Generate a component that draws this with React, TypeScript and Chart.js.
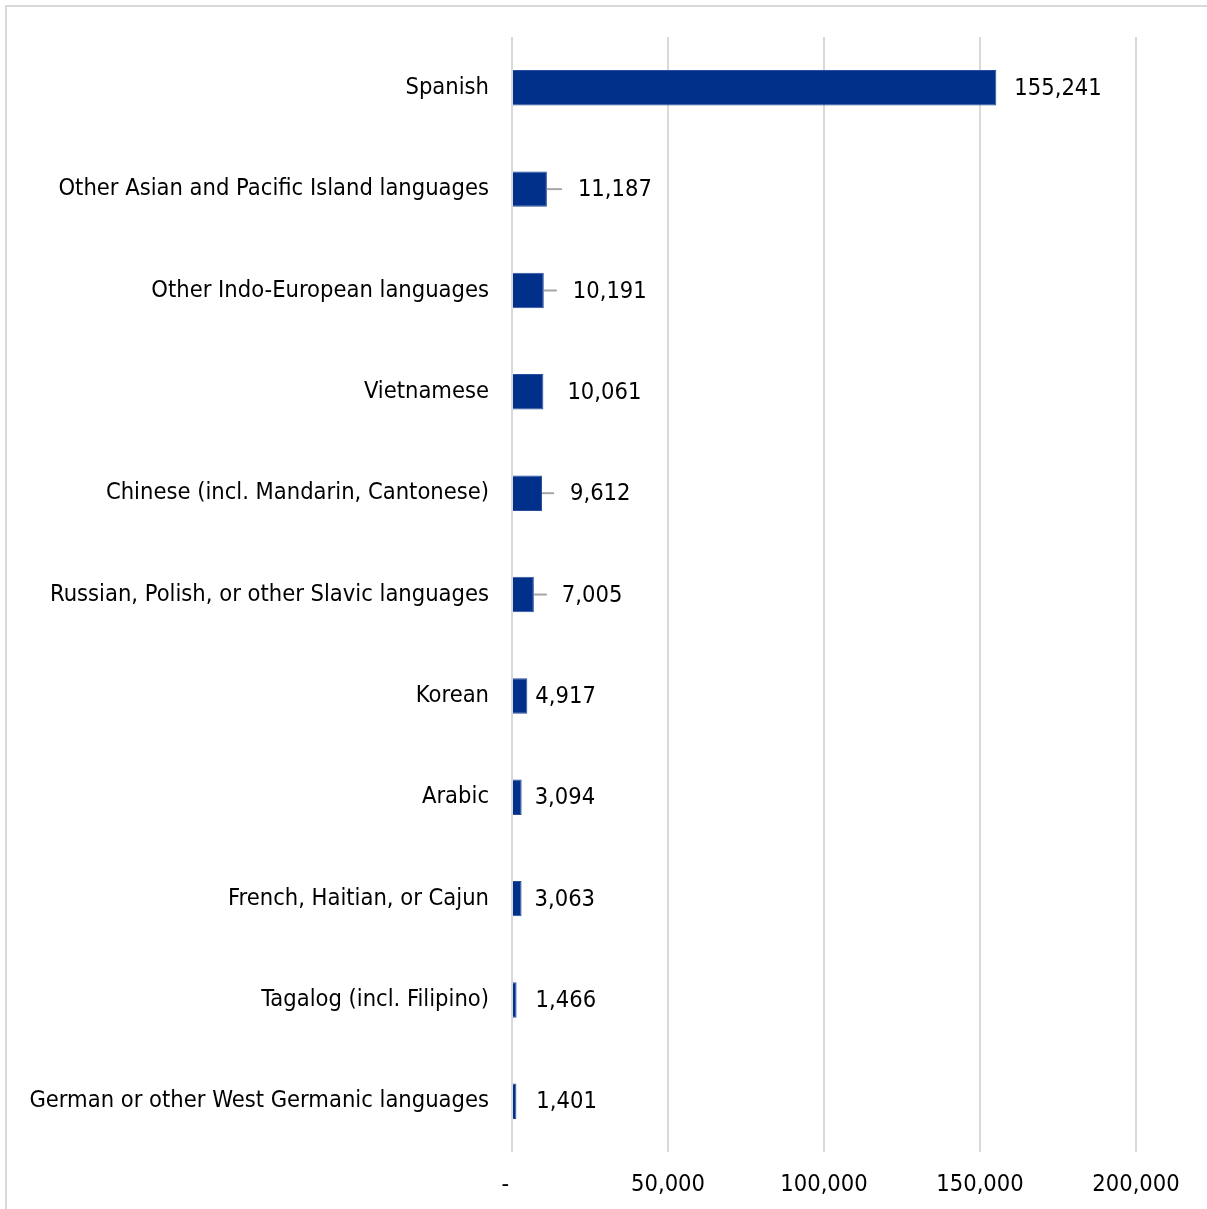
import React, { useEffect, useRef } from "react";
import { Chart, registerables } from "chart.js";

Chart.register(...registerables);

const categories = [
  "Spanish",
  "Other Asian and Pacific Island languages",
  "Other Indo-European languages",
  "Vietnamese",
  "Chinese (incl. Mandarin, Cantonese)",
  "Russian, Polish, or other Slavic languages",
  "Korean",
  "Arabic",
  "French, Haitian, or Cajun",
  "Tagalog (incl. Filipino)",
  "German or other West Germanic languages",
];

const speakers = [155241, 11187, 10191, 10061, 9612, 7005, 4917, 3094, 3063, 1466, 1401];

const xTickValues = [0, 50000, 100000, 150000, 200000];

// label layout (pixels from bar end) and leader line lengths
const labelGap = [18, 31, 29, 24, 28, 28, 8, 13, 13, 19, 20];
const leaderLen = [0, 15, 13, 0, 12, 13, 0, 0, 0, 0, 0];

const FONT = "'DejaVu Sans Condensed', 'DejaVu Sans', sans-serif";
const FSIZE = 23.5;

const labelPlugin = {
  id: "barLabels",
  afterDatasetsDraw(chart: any) {
    const ctx = chart.ctx;
    const meta = chart.getDatasetMeta(0);
    ctx.save();
    ctx.font = `${FSIZE}px ${FONT}`;
    ctx.textBaseline = "middle";
    ctx.textAlign = "left";
    meta.data.forEach((bar: any, i: number) => {
      const x = bar.x;
      const y = bar.y;
      if (leaderLen[i] > 0) {
        ctx.strokeStyle = "#a6a6a6";
        ctx.lineWidth = 2;
        ctx.beginPath();
        ctx.moveTo(x, y);
        ctx.lineTo(x + leaderLen[i], y);
        ctx.stroke();
      }
      ctx.fillStyle = "#000000";
      ctx.fillText(speakers[i].toLocaleString("en-US"), x + labelGap[i], y + 1);
    });
    ctx.restore();
  },
};

export default function App() {
  const ref = useRef<HTMLCanvasElement | null>(null);

  useEffect(() => {
    if (!ref.current) return;
    Chart.defaults.font.family = FONT;
    const chart = new Chart(ref.current, {
      type: "bar",
      data: {
        labels: categories,
        datasets: [
          {
            data: speakers,
            backgroundColor: "#00308a",
            borderColor: "#2a4f9a",
            borderWidth: 1,
            categoryPercentage: 0.35,
            barPercentage: 1,
          },
        ],
      },
      options: {
        indexAxis: "y",
        animation: false,
        responsive: false,
        maintainAspectRatio: false,
        devicePixelRatio: 1,
        layout: { padding: { top: 36, right: 71, bottom: 0, left: 0 } },
        plugins: {
          legend: { display: false },
          tooltip: { enabled: false },
        },
        scales: {
          x: {
            min: 0,
            max: 200000,
            afterBuildTicks: (scale: any) => {
              scale.ticks = xTickValues.map((v) => ({ value: v }));
            },
            afterFit: (scale: any) => {
              scale.height = 57;
            },
            grid: { color: "#d9d9d9", lineWidth: 2, drawTicks: false },
            border: { display: false },
            ticks: {
              padding: 19,
              color: "#000000",
              font: { size: FSIZE, family: FONT },
              maxRotation: 0,
              callback: (v: any) => (Number(v) === 0 ? "-  " : Number(v).toLocaleString("en-US")),
            },
          },
          y: {
            afterFit: (scale: any) => {
              scale.width = 512;
            },
            grid: { display: false, drawTicks: false },
            border: { display: false },
            ticks: {
              padding: 23,
              color: "#000000",
              font: { size: FSIZE, family: FONT },
            },
          },
        },
      },
      plugins: [labelPlugin],
    });
    return () => chart.destroy();
  }, []);

  return (
    <div style={{ position: "fixed", left: 0, top: 0, width: 1207, height: 1209, background: "#fff", overflow: "hidden" }}>
      <div
        style={{
          position: "absolute",
          left: 5,
          top: 5,
          width: 1400,
          height: 1400,
          borderTop: "2px solid #d9d9d9",
          borderLeft: "2px solid #d9d9d9",
        }}
      />
      <canvas ref={ref} width={1207} height={1209} style={{ position: "absolute", left: 0, top: 0, width: 1207, height: 1209 }} />
    </div>
  );
}
